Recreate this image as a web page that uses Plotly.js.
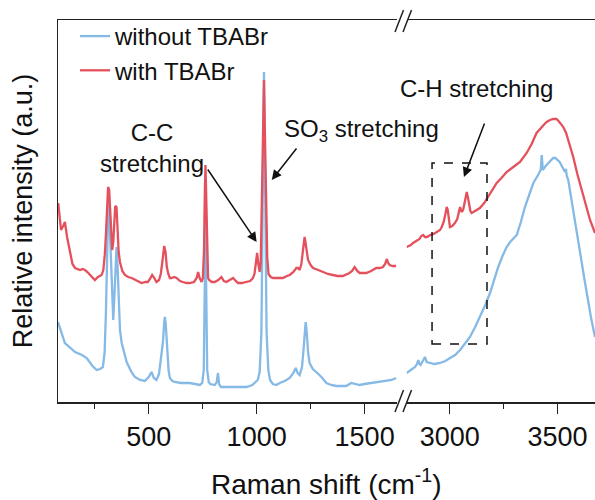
<!DOCTYPE html>
<html>
<head>
<meta charset="utf-8">
<script src="https://cdn.plot.ly/plotly-3.0.1.min.js"></script>
<style>body{margin:0;padding:0;background:#fff;}#chart{width:595px;height:500px;}</style>
</head>
<body>
<div id="chart"></div>
<script>
// ---- Data (Raman shift in cm-1, relative intensity in arbitrary units) ----
const blueLowX = [80,112,159,191,213,240,259,275,288,296,302,308,313,318,323,330,336,341,346,351,356,361,367,375,390,398,420,436,460,482,500,513,524,536,548,556,566,572,575,579,585,592,598,610,621,650,690,720,737,748,755,760,763,766,771,778,785,806,815,821,826,835,876,920,953,980,991,1005,1014,1022,1028,1034,1040,1046,1054,1062,1075,1091,1107,1130,1153,1170,1181,1190,1199,1210,1217,1222,1227,1232,1238,1245,1260,1276,1300,1323,1345,1369,1392,1415,1438,1455,1477,1500,1538,1570,1600,1625,1646];
const blueLowY = [80,59,50,47,44,36,32,33,35,50,90,170,200,185,150,100,82,105,140,155,135,100,72,59,46,40,30,25,22,21,25,30,24,22,28,40,60,80,85,78,50,32,24,21,20,19,19,18,17,19,32,120,205,120,32,20,18,17,20,29,18,15,15,15,15,17,19,22,30,70,200,330,200,70,32,22,18,17,19,21,24,29,34,29,27,35,52,70,80,70,50,39,33,30,25,19,17,16,16,16,19,18,17,18,19,20,21,22,24];

const redLowX = [81,94,104,112,122,135,147,159,170,182,194,205,216,228,240,251,265,282,290,297,302,307,312,317,322,327,331,336,340,345,351,356,361,367,378,390,405,421,445,467,485,496,506,516,526,536,548,556,562,567,572,578,584,591,598,606,618,629,645,658,675,690,710,722,729,736,745,751,756,760,763,766,770,775,780,792,806,822,837,848,860,875,891,903,914,930,953,970,983,990,996,1002,1008,1014,1019,1024,1029,1034,1039,1044,1049,1055,1065,1076,1100,1122,1140,1153,1170,1184,1192,1199,1207,1213,1218,1222,1226,1231,1238,1250,1261,1285,1307,1330,1353,1375,1399,1420,1430,1442,1454,1466,1477,1492,1508,1530,1554,1570,1585,1595,1603,1609,1616,1630,1646];
const redLowY = [199,172,176,180,165,149,138,134,133,132,133,132,130,127,124,122,125,127,132,148,168,200,215,212,185,160,152,160,183,196,195,175,150,140,131,127,125,124,121,119,120,120,123,127,124,120,122,128,138,150,156,150,135,128,124,124,125,124,121,120,119,119,120,124,130,124,120,124,150,210,237,210,150,124,122,120,120,122,125,121,120,122,124,121,119,119,120,121,124,128,138,149,138,130,140,190,260,322,260,190,145,128,125,124,124,124,126,127,130,134,134,132,138,150,162,165,160,150,142,137,134,132,130,128,127,126,126,128,129,131,135,131,129,129,129,131,134,134,135,138,143,139,137,136,136];

const blueHighX = [2800,2820,2839,2848,2854,2860,2865,2875,2885,2893,2910,2930,2955,2980,3001,3025,3048,3070,3094,3118,3140,3165,3187,3205,3225,3245,3264,3280,3295,3311,3330,3349,3370,3388,3410,3422,3427,3432,3445,3457,3470,3480,3490,3500,3510,3520,3530,3535,3539,3543,3550,3560,3570,3580,3589,3600,3612,3624,3635,3655,3674];
const blueHighY = [29,32,35,38,42,38,37,41,45,40,39,38,39,41,44,47,52,58,65,75,85,97,109,122,135,146,155,160,163,167,180,195,208,219,227,232,247,232,236,239,242,244,244,242,240,236,232,230,233,226,222,208,195,182,169,155,140,124,109,85,65];

const redHighX = [2800,2810,2820,2830,2839,2850,2860,2868,2877,2885,2895,2909,2925,2940,2955,2963,2972,2980,2986,2991,2996,3001,3012,3024,3035,3042,3048,3055,3062,3068,3074,3079,3084,3090,3096,3102,3120,3140,3160,3174,3195,3218,3240,3264,3295,3326,3357,3380,3403,3425,3440,3450,3465,3480,3495,3505,3517,3527,3540,3550,3562,3573,3592,3612,3632,3651,3674];
const redHighY = [155,156,157,159,160,162,163,166,167,165,165,167,168,170,172,175,180,188,195,192,183,175,176,179,183,190,195,190,192,198,205,210,205,196,191,189,191,194,199,204,212,219,224,230,235,240,249,258,269,275,278,280,282,283,283,281,278,275,269,262,254,245,228,212,196,182,169];

const seriesNames = ['without TBABr', 'with TBABr'];
const tickValsLow = [500, 1000, 1500];
const tickValsHigh = [3000, 3500];

// ---- Styling ----
const BLUE = '#85B9E6';
const RED = '#E4505B';
const AX = '#222222';
const FONT = 'Liberation Sans, Arial, Helvetica, sans-serif';

// plot-area geometry (pixels)
const L = 58, R = 595, T = 20, B = 402;
const W = R - L, H = B - T;
const px = p => (p - L) / W;
const py = p => (B - p) / H;

const LW = 2.3;
const traces = [
  {x: blueLowX, y: blueLowY, xaxis: 'x', yaxis: 'y', name: seriesNames[0], legendgroup: 'b', mode: 'lines', line: {color: BLUE, width: LW}},
  {x: blueHighX, y: blueHighY, xaxis: 'x2', yaxis: 'y', name: seriesNames[0], legendgroup: 'b', showlegend: false, mode: 'lines', line: {color: BLUE, width: LW}},
  {x: redLowX, y: redLowY, xaxis: 'x', yaxis: 'y', name: seriesNames[1], legendgroup: 'r', mode: 'lines', line: {color: RED, width: LW}},
  {x: redHighX, y: redHighY, xaxis: 'x2', yaxis: 'y', name: seriesNames[1], legendgroup: 'r', showlegend: false, mode: 'lines', line: {color: RED, width: LW}}
];

const xCommon = {
  showline: true, linecolor: AX, linewidth: 1.5, mirror: true,
  ticks: 'outside', ticklen: 10, tickwidth: 1.5, tickcolor: AX,
  minor: {dtick: 250, tick0: 0, ticks: 'outside', ticklen: 5, tickwidth: 1.5, tickcolor: AX},
  showgrid: false, zeroline: false,
  tickfont: {family: FONT, size: 27, color: '#111'},
  anchor: 'y'
};

const slash = (x0, y0) => ({type: 'line', xref: 'paper', yref: 'paper',
  x0: px(x0), y0: py(y0 + 11), x1: px(x0 + 8.5), y1: py(y0 - 11),
  line: {color: AX, width: 1.5}});

const arrow = (xr, x, y, ax, ay) => ({xref: xr, yref: 'y', x: x, y: y, axref: xr, ayref: 'y', ax: ax, ay: ay,
  text: '', showarrow: true, arrowhead: 2, arrowsize: 1.3, arrowwidth: 1.5, arrowcolor: '#111'});

const layout = {
  width: 595, height: 500,
  margin: {l: L, r: 595 - R, t: T, b: 500 - B},
  paper_bgcolor: '#fff', plot_bgcolor: '#fff',
  font: {family: FONT, color: '#111'},
  showlegend: true,
  legend: {x: px(75), y: py(14), xanchor: 'left', yanchor: 'top', bgcolor: 'rgba(0,0,0,0)',
           font: {family: FONT, size: 24, color: '#111'}, tracegroupgap: 0},
  xaxis: Object.assign({}, xCommon, {domain: [0, px(397)], range: [80, 1650], tickvals: tickValsLow}),
  xaxis2: Object.assign({}, xCommon, {domain: [px(406.6), 1], range: [2800, 3674], tickvals: tickValsHigh}),
  yaxis: {range: [0, 382], showline: true, linecolor: AX, linewidth: 1.5, ticks: '', showticklabels: false,
          showgrid: false, zeroline: false,
          title: {text: 'Relative intensity (a.u.)', font: {family: FONT, size: 27, color: '#111'}, standoff: 16}},
  shapes: [
    slash(395, 401), slash(403, 401),
    slash(395, 21), slash(403, 21),
    {type: 'rect', xref: 'x2', yref: 'y', x0: 2918, x1: 3173, y0: 58, y1: 239,
     line: {color: '#111', width: 1.5, dash: 'dash'}}
  ],
  annotations: [
    {xref: 'paper', yref: 'paper', x: 0.5, y: py(482), text: 'Raman shift (cm<sup>-1</sup>)', showarrow: false,
     xanchor: 'center', yanchor: 'middle', font: {family: FONT, size: 28, color: '#111'}},
    {xref: 'x', yref: 'y', x: 515, y: 254, text: 'C-C<br>stretching', showarrow: false,
     xanchor: 'center', yanchor: 'middle', font: {family: FONT, size: 24, color: '#111'}},
    {xref: 'x', yref: 'y', x: 1486, y: 272, text: 'SO<sub>3</sub> stretching', showarrow: false,
     xanchor: 'center', yanchor: 'middle', font: {family: FONT, size: 24, color: '#111'}},
    {xref: 'x2', yref: 'y', x: 3122, y: 314, text: 'C-H stretching', showarrow: false,
     xanchor: 'center', yanchor: 'middle', font: {family: FONT, size: 24, color: '#111'}},
    arrow('x', 1000, 160, 769, 234),
    arrow('x', 1070, 222, 1190, 255),
    arrow('x2', 3066, 225, 3164, 280)
  ]
};

Plotly.newPlot('chart', traces, layout, {displayModeBar: false, staticPlot: true});
</script>
</body>
</html>
